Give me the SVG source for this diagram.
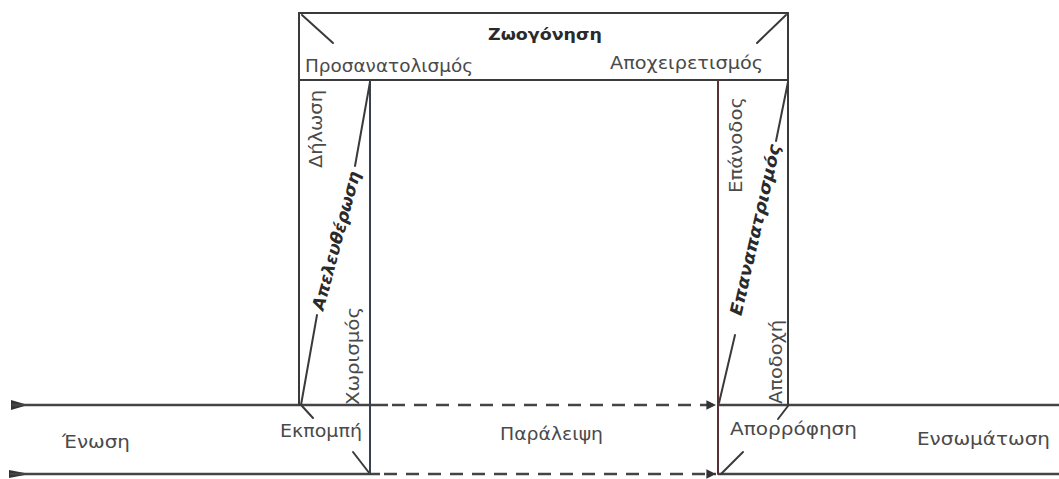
<svg xmlns="http://www.w3.org/2000/svg" width="1059" height="479" viewBox="0 0 1059 479">
<style>
.ln{stroke:#3a3a3a;stroke-width:2;fill:none;stroke-linecap:round}
.hl{stroke:#444;stroke-width:2.4;fill:none}
.ds{stroke:#444;stroke-width:2.4;fill:none;stroke-dasharray:13 9}
.t{font-family:"DejaVu Sans","Noto Sans",sans-serif;font-size:17px;fill:#4a4a4a}
.b{font-family:"DejaVu Sans","Noto Sans",sans-serif;font-size:16px;font-weight:bold;fill:#2a2a2a}
.bi{font-family:"DejaVu Sans","Noto Sans",sans-serif;font-size:17px;font-weight:bold;font-style:italic;fill:#2a2a2a}
</style>
<defs>
<marker id="ah" viewBox="0 0 10 10" refX="10" refY="5" markerWidth="4" markerHeight="4" orient="auto" markerUnits="strokeWidth">
<path d="M0,0 L10,5 L0,10 z" fill="#333"/>
</marker>
</defs>
<rect width="1059" height="479" fill="#ffffff"/>

<g id="connectors">
<!-- upper flow line -->
<polygon points="11,400 11,410 28,405" fill="#333"/>
<line class="hl" x1="12" y1="405" x2="388" y2="405"/>
<line class="ds" x1="392" y1="405" x2="716" y2="405" marker-end="url(#ah)"/>
<line class="hl" x1="718" y1="405" x2="1059" y2="405"/>
<!-- lower flow line -->
<polygon points="9,470 9,478 30,474" fill="#333"/>
<line class="hl" x1="10" y1="474" x2="380" y2="474"/>
<line class="ds" x1="384" y1="474" x2="716" y2="474" marker-end="url(#ah)"/>
<line class="hl" x1="718" y1="474" x2="1059" y2="474"/>
<!-- ticks -->
<line class="ln" x1="302" y1="406" x2="313" y2="418"/>
<line class="ln" x1="353" y1="452" x2="370" y2="474"/>
<line class="ln" x1="788" y1="406" x2="778" y2="419"/>
<line class="ln" x1="743" y1="452" x2="721" y2="474"/>
</g>

<g id="zoogonisi">
<line class="ln" x1="299" y1="13" x2="788" y2="13"/>
<line class="ln" x1="299" y1="80" x2="788" y2="80"/>
<line class="ln" x1="302" y1="15" x2="333" y2="43"/>
<line class="ln" x1="786" y1="15" x2="757" y2="43"/>
<text class="b" x="545" y="40" text-anchor="middle" textLength="114" lengthAdjust="spacingAndGlyphs">Ζωογόνηση</text>
<text class="t" x="305" y="72" font-size="18" textLength="168" lengthAdjust="spacingAndGlyphs">Προσανατολισμός</text>
<text class="t" x="610" y="69" font-size="18" textLength="153" lengthAdjust="spacingAndGlyphs">Αποχειρετισμός</text>
</g>

<g id="apeleftherosi">
<line class="ln" x1="299" y1="13" x2="299" y2="405"/>
<line class="ln" x1="370" y1="80" x2="370" y2="474" style="stroke:#3a4050"/>
<line class="ln" x1="370" y1="82" x2="355" y2="166"/>
<line class="ln" x1="317" y1="315" x2="301" y2="405"/>
<text class="t" transform="translate(322,129) rotate(-90)" text-anchor="middle" textLength="78" lengthAdjust="spacingAndGlyphs">Δήλωση</text>
<text class="t" transform="translate(359,356) rotate(-90)" text-anchor="middle" textLength="98" lengthAdjust="spacingAndGlyphs">Χωρισμός</text>
<text class="bi" transform="translate(337,241) rotate(-75)" text-anchor="middle" dy="5" textLength="143" lengthAdjust="spacingAndGlyphs">Απελευθέρωση</text>
</g>

<g id="epanapatrismos">
<line class="ln" x1="788" y1="13" x2="788" y2="405"/>
<line class="ln" x1="718" y1="80" x2="718" y2="474" style="stroke:#5a3038"/>
<line class="ln" x1="788" y1="82" x2="776" y2="141"/>
<line class="ln" x1="735" y1="335" x2="719" y2="403"/>
<text class="t" transform="translate(742,145) rotate(-90)" text-anchor="middle" textLength="96" lengthAdjust="spacingAndGlyphs">Επάνοδος</text>
<text class="t" transform="translate(782,362) rotate(-90)" text-anchor="middle" textLength="84" lengthAdjust="spacingAndGlyphs">Αποδοχή</text>
<text class="bi" transform="translate(756,230) rotate(-77)" text-anchor="middle" dy="5" textLength="175" lengthAdjust="spacingAndGlyphs">Επαναπατρισμός</text>
</g>

<g id="labels">
<text class="t" x="62" y="448" textLength="68" lengthAdjust="spacingAndGlyphs">Ένωση</text>
<text class="t" x="280" y="437" textLength="82" lengthAdjust="spacingAndGlyphs">Εκπομπή</text>
<text class="t" x="500" y="440" textLength="103" lengthAdjust="spacingAndGlyphs">Παράλειψη</text>
<text class="t" x="730" y="435" textLength="127" lengthAdjust="spacingAndGlyphs">Απορρόφηση</text>
<text class="t" x="917" y="445" textLength="133" lengthAdjust="spacingAndGlyphs">Ενσωμάτωση</text>
</g>
</svg>
